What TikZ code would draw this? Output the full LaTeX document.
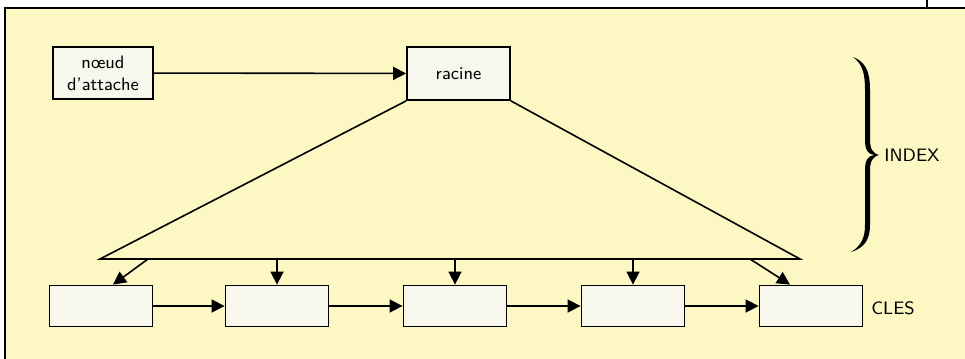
\documentclass[tikz,border=0pt]{standalone}
\usetikzlibrary{arrows.meta}
\definecolor{pageyellow}{RGB}{252,247,195}
\definecolor{boxwhite}{RGB}{248,247,238}

\begin{document}
\begin{tikzpicture}[x=0.5pt,y=-0.5pt,every node/.style={font=\sffamily\small},
  bloc/.style={draw,fill=boxwhite,line width=0.9pt,inner sep=0pt},
  fleche/.style={-{Triangle[length=6.5pt,width=6.5pt]},line width=0.8pt}]
  \useasboundingbox (0,0) rectangle (965,359);
  \fill[pageyellow] (5,8) rectangle (965,359);
  \draw[line width=0.7pt] (5,359) -- (5,8) -- (965,8);
  \draw[line width=0.7pt] (927,0) -- (927,8);
  % index
  \node[bloc,minimum width=50pt,minimum height=26pt,align=center] (attache) at (103,73) {n\oe ud\\d'attache};
  \node[bloc,minimum width=51.5pt,minimum height=26.5pt] (racine) at (458.5,73.5) {racine};
  \draw[fleche] (attache) -- (racine);
  \coordinate (gauche) at (100,259);
  \coordinate (droite) at (800,259);
  \draw[line width=0.8pt] (racine.south west) -- (gauche) -- (droite) -- (racine.south east);
  % cles
  \foreach \i/\x in {1/101,2/277,3/455,4/633,5/811}
    \node[bloc,minimum width=51.5pt,minimum height=20.5pt] (cle\i) at (\x,306) {};
  \foreach \i/\j in {1/2,2/3,3/4,4/5}
    \draw[fleche] (cle\i) -- (cle\j);
  \coordinate (d1) at (148,259);
  \coordinate (d5) at (750,259);
  \draw[fleche] (d1) -- ([xshift=6pt]cle1.north);
  \foreach \i in {2,3,4}
    \draw[fleche] (cle\i.north |- gauche) -- (cle\i.north);
  \draw[fleche] (d5) -- ([xshift=-10.5pt]cle5.north);
  % accolade
  \fill (853,57) .. controls (866,62) and (870,72) .. (870,90) -- (870,140)
    .. controls (870,150) and (874,154) .. (879,155)
    .. controls (874,156) and (870,160) .. (870,170) -- (870,225)
    .. controls (870,240) and (864,248) .. (851,252)
    .. controls (861,246) and (865,238) .. (865,225) -- (865,170)
    .. controls (865,160) and (868,156) .. (874,155)
    .. controls (868,154) and (865,150) .. (865,140) -- (865,90)
    .. controls (865,72) and (862,64) .. (853,57) -- cycle;
  \node (index) at (912,155) {INDEX};
  \node (cles) at (893,308) {CLES};
\end{tikzpicture}
\end{document}
